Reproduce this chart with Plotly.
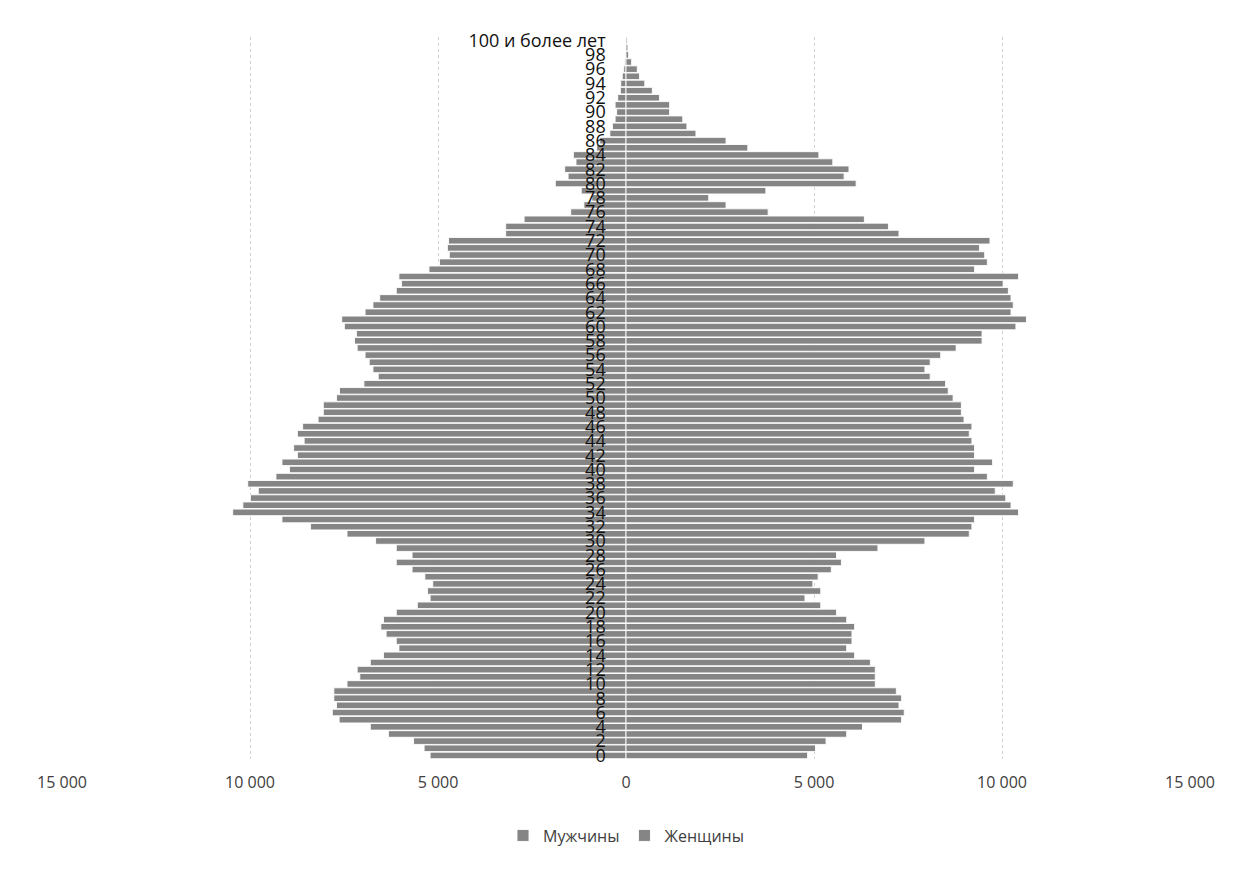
import plotly.graph_objects as go

ages = [str(a) for a in range(100)] + ["100 и более лет"]

men = [5210, 5370, 5650, 6320, 6800, 7630, 7810, 7700, 7770, 7770,
       7420, 7080, 7150, 6800, 6450, 6040, 6110, 6380, 6520, 6450,
       6110, 5550, 5210, 5280, 5140, 5350, 5690, 6110, 5690, 6110,
       6660, 7420, 8390, 9150, 10460, 10190, 9990, 9780, 10060, 9310,
       8950, 9150, 8740, 8840, 8560, 8740, 8600, 8190, 8050, 8050,
       7700, 7620, 6970, 6590, 6730, 6830, 6940, 7150, 7220, 7170,
       7490, 7560, 6940, 6730, 6550, 6110, 5970, 6040, 5240, 4960,
       4700, 4750, 4720, 3200, 3200, 2710, 1470, 1120, 910, 1190,
       1880, 1540, 1630, 1330, 1400, 780, 700, 430, 360, 290,
       250, 290, 220, 150, 140, 100, 60, 40, 20, 15,
       10]

women = [4830, 5040, 5320, 5870, 6290, 7330, 7400, 7260, 7330, 7190,
         6630, 6630, 6630, 6500, 6080, 5870, 6010, 6010, 6080, 5870,
         5600, 5180, 4760, 5180, 4970, 5110, 5460, 5730, 5600, 6700,
         7950, 9130, 9200, 9270, 10440, 10240, 10100, 9820, 10300, 9610,
         9270, 9750, 9270, 9270, 9200, 9130, 9200, 8990, 8920, 8920,
         8700, 8570, 8500, 8090, 7950, 8090, 8370, 8780, 9470, 9470,
         10370, 10650, 10240, 10300, 10240, 10170, 10030, 10440, 9270, 9610,
         9540, 9400, 9680, 7260, 6980, 6340, 3780, 2660, 2200, 3720,
         6120, 5800, 5930, 5500, 5130, 3240, 2660, 1860, 1620, 1510,
         1160, 1160, 890, 700, 500, 360, 300, 150, 70, 50,
         30]

x_tick_vals = [-15000, -10000, -5000, 0, 5000, 10000, 15000]
x_tick_text = ["15 000", "10 000", "5 000", "0", "5 000", "10 000", "15 000"]
y_tick_vals = ages[0::2]

bar_color = "#858585"

fig = go.Figure()
fig.add_trace(go.Bar(
    y=ages, x=[-v for v in men], orientation="h", name="Мужчины",
    marker=dict(color=bar_color, line=dict(color="white", width=0.9)),
))
fig.add_trace(go.Bar(
    y=ages, x=women, orientation="h", name="Женщины",
    marker=dict(color=bar_color, line=dict(color="white", width=0.9)),
))

fig.update_layout(
    width=1224, height=856,
    margin=dict(l=54, r=42, t=29, b=103),
    paper_bgcolor="white", plot_bgcolor="white",
    barmode="overlay", bargap=0.08,
    font=dict(family="Open Sans", color="#404040"),
    showlegend=True,
    legend=dict(orientation="h", x=0.5, xanchor="center", y=-0.106, yanchor="middle",
                font=dict(size=16, color="#404040"), itemwidth=30),
    xaxis=dict(range=[-15000, 15000], tickvals=x_tick_vals, ticktext=x_tick_text,
               showgrid=True, gridcolor="#d0d0d0", griddash="dot", gridwidth=1,
               zeroline=False, showline=False, ticks="",
               tickfont=dict(size=16, color="#404040"), ticklabelstandoff=12),
    yaxis=dict(type="category", categoryarray=ages, categoryorder="array",
               tickvals=y_tick_vals, ticks="", showgrid=False, zeroline=False,
               showline=False, anchor="free", position=0.482,
               range=[-0.5, 100.5],
               tickfont=dict(size=18, color="#111111", family="Open Sans"),
               layer="above traces"),
)

fig.write_html("out.html")
